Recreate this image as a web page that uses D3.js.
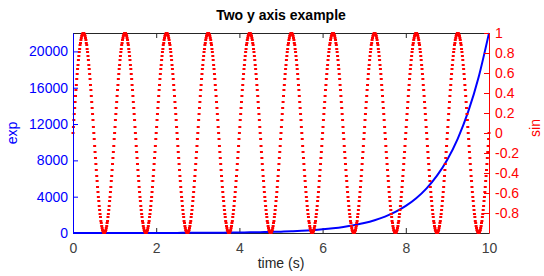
<!DOCTYPE html>
<html>
<head>
<meta charset="utf-8">
<script src="https://cdn.jsdelivr.net/npm/d3@7"></script>
<style>
    body { margin: 0; background: #fff; }
    svg { display: block; font-family: "Liberation Sans", Arial, sans-serif; }
</style>
</head>
<body>
<div id="chart"></div>
<script>
// ticks
var timeTicks = [0, 2, 4, 6, 8, 10];
var expTicks = [0, 4000, 8000, 12000, 16000, 20000];
var sinTicks = [1, 0.8, 0.6, 0.4, 0.2, 0, -0.2, -0.4, -0.6, -0.8];

// sin series, one sample every 0.01 s
var sinStep = 0.01;
var sinValues = [
0,.06,.13,.19,.25,.31,.37,.43,.48,.54,.59,.64,.68,.73,.77,.81,.84,.88,.9,.93,.95,.97,.98,.99,1,1,1,.99,.98,.97,.95,.93,.9,.88,.84,.81,.77,.73,.68,.64,.59,.54,.48,.43,.37,.31,.25,.19,.13,.06,0,-.06,-.13,-.19,-.25,-.31,-.37,-.43,-.48,-.54,-.59,-.64,-.68,-.73,-.77,-.81,-.84,-.88,-.9,-.93,-.95,-.97,-.98,-.99,-1,-1,-1,-.99,-.98,-.97,-.95,-.93,-.9,-.88,-.84,-.81,-.77,-.73,-.68,-.64,-.59,-.54,-.48,-.43,-.37,-.31,-.25,-.19,-.13,-.06,
0,.06,.13,.19,.25,.31,.37,.43,.48,.54,.59,.64,.68,.73,.77,.81,.84,.88,.9,.93,.95,.97,.98,.99,1,1,1,.99,.98,.97,.95,.93,.9,.88,.84,.81,.77,.73,.68,.64,.59,.54,.48,.43,.37,.31,.25,.19,.13,.06,0,-.06,-.13,-.19,-.25,-.31,-.37,-.43,-.48,-.54,-.59,-.64,-.68,-.73,-.77,-.81,-.84,-.88,-.9,-.93,-.95,-.97,-.98,-.99,-1,-1,-1,-.99,-.98,-.97,-.95,-.93,-.9,-.88,-.84,-.81,-.77,-.73,-.68,-.64,-.59,-.54,-.48,-.43,-.37,-.31,-.25,-.19,-.13,-.06,
0,.06,.13,.19,.25,.31,.37,.43,.48,.54,.59,.64,.68,.73,.77,.81,.84,.88,.9,.93,.95,.97,.98,.99,1,1,1,.99,.98,.97,.95,.93,.9,.88,.84,.81,.77,.73,.68,.64,.59,.54,.48,.43,.37,.31,.25,.19,.13,.06,0,-.06,-.13,-.19,-.25,-.31,-.37,-.43,-.48,-.54,-.59,-.64,-.68,-.73,-.77,-.81,-.84,-.88,-.9,-.93,-.95,-.97,-.98,-.99,-1,-1,-1,-.99,-.98,-.97,-.95,-.93,-.9,-.88,-.84,-.81,-.77,-.73,-.68,-.64,-.59,-.54,-.48,-.43,-.37,-.31,-.25,-.19,-.13,-.06,
0,.06,.13,.19,.25,.31,.37,.43,.48,.54,.59,.64,.68,.73,.77,.81,.84,.88,.9,.93,.95,.97,.98,.99,1,1,1,.99,.98,.97,.95,.93,.9,.88,.84,.81,.77,.73,.68,.64,.59,.54,.48,.43,.37,.31,.25,.19,.13,.06,0,-.06,-.13,-.19,-.25,-.31,-.37,-.43,-.48,-.54,-.59,-.64,-.68,-.73,-.77,-.81,-.84,-.88,-.9,-.93,-.95,-.97,-.98,-.99,-1,-1,-1,-.99,-.98,-.97,-.95,-.93,-.9,-.88,-.84,-.81,-.77,-.73,-.68,-.64,-.59,-.54,-.48,-.43,-.37,-.31,-.25,-.19,-.13,-.06,
0,.06,.13,.19,.25,.31,.37,.43,.48,.54,.59,.64,.68,.73,.77,.81,.84,.88,.9,.93,.95,.97,.98,.99,1,1,1,.99,.98,.97,.95,.93,.9,.88,.84,.81,.77,.73,.68,.64,.59,.54,.48,.43,.37,.31,.25,.19,.13,.06,0,-.06,-.13,-.19,-.25,-.31,-.37,-.43,-.48,-.54,-.59,-.64,-.68,-.73,-.77,-.81,-.84,-.88,-.9,-.93,-.95,-.97,-.98,-.99,-1,-1,-1,-.99,-.98,-.97,-.95,-.93,-.9,-.88,-.84,-.81,-.77,-.73,-.68,-.64,-.59,-.54,-.48,-.43,-.37,-.31,-.25,-.19,-.13,-.06,
0,.06,.13,.19,.25,.31,.37,.43,.48,.54,.59,.64,.68,.73,.77,.81,.84,.88,.9,.93,.95,.97,.98,.99,1,1,1,.99,.98,.97,.95,.93,.9,.88,.84,.81,.77,.73,.68,.64,.59,.54,.48,.43,.37,.31,.25,.19,.13,.06,0,-.06,-.13,-.19,-.25,-.31,-.37,-.43,-.48,-.54,-.59,-.64,-.68,-.73,-.77,-.81,-.84,-.88,-.9,-.93,-.95,-.97,-.98,-.99,-1,-1,-1,-.99,-.98,-.97,-.95,-.93,-.9,-.88,-.84,-.81,-.77,-.73,-.68,-.64,-.59,-.54,-.48,-.43,-.37,-.31,-.25,-.19,-.13,-.06,
0,.06,.13,.19,.25,.31,.37,.43,.48,.54,.59,.64,.68,.73,.77,.81,.84,.88,.9,.93,.95,.97,.98,.99,1,1,1,.99,.98,.97,.95,.93,.9,.88,.84,.81,.77,.73,.68,.64,.59,.54,.48,.43,.37,.31,.25,.19,.13,.06,0,-.06,-.13,-.19,-.25,-.31,-.37,-.43,-.48,-.54,-.59,-.64,-.68,-.73,-.77,-.81,-.84,-.88,-.9,-.93,-.95,-.97,-.98,-.99,-1,-1,-1,-.99,-.98,-.97,-.95,-.93,-.9,-.88,-.84,-.81,-.77,-.73,-.68,-.64,-.59,-.54,-.48,-.43,-.37,-.31,-.25,-.19,-.13,-.06,
0,.06,.13,.19,.25,.31,.37,.43,.48,.54,.59,.64,.68,.73,.77,.81,.84,.88,.9,.93,.95,.97,.98,.99,1,1,1,.99,.98,.97,.95,.93,.9,.88,.84,.81,.77,.73,.68,.64,.59,.54,.48,.43,.37,.31,.25,.19,.13,.06,0,-.06,-.13,-.19,-.25,-.31,-.37,-.43,-.48,-.54,-.59,-.64,-.68,-.73,-.77,-.81,-.84,-.88,-.9,-.93,-.95,-.97,-.98,-.99,-1,-1,-1,-.99,-.98,-.97,-.95,-.93,-.9,-.88,-.84,-.81,-.77,-.73,-.68,-.64,-.59,-.54,-.48,-.43,-.37,-.31,-.25,-.19,-.13,-.06,
0,.06,.13,.19,.25,.31,.37,.43,.48,.54,.59,.64,.68,.73,.77,.81,.84,.88,.9,.93,.95,.97,.98,.99,1,1,1,.99,.98,.97,.95,.93,.9,.88,.84,.81,.77,.73,.68,.64,.59,.54,.48,.43,.37,.31,.25,.19,.13,.06,0,-.06,-.13,-.19,-.25,-.31,-.37,-.43,-.48,-.54,-.59,-.64,-.68,-.73,-.77,-.81,-.84,-.88,-.9,-.93,-.95,-.97,-.98,-.99,-1,-1,-1,-.99,-.98,-.97,-.95,-.93,-.9,-.88,-.84,-.81,-.77,-.73,-.68,-.64,-.59,-.54,-.48,-.43,-.37,-.31,-.25,-.19,-.13,-.06,
0,.06,.13,.19,.25,.31,.37,.43,.48,.54,.59,.64,.68,.73,.77,.81,.84,.88,.9,.93,.95,.97,.98,.99,1,1,1,.99,.98,.97,.95,.93,.9,.88,.84,.81,.77,.73,.68,.64,.59,.54,.48,.43,.37,.31,.25,.19,.13,.06,0,-.06,-.13,-.19,-.25,-.31,-.37,-.43,-.48,-.54,-.59,-.64,-.68,-.73,-.77,-.81,-.84,-.88,-.9,-.93,-.95,-.97,-.98,-.99,-1,-1,-1,-.99,-.98,-.97,-.95,-.93,-.9,-.88,-.84,-.81,-.77,-.73,-.68,-.64,-.59,-.54,-.48,-.43,-.37,-.31,-.25,-.19,-.13,-.06,
0
];

// exp series, one sample every 0.25 s
var expStep = 0.25;
var expValues = [
    1, 1.284, 1.649, 2.117, 2.718, 3.49, 4.482, 5.755, 7.389, 9.488,
    12.18, 15.64, 20.09, 25.79, 33.12, 42.52, 54.6, 70.11, 90.02, 115.6,
    148.4, 190.6, 244.7, 314.2, 403.4, 518, 665.1, 854.1, 1096.6, 1408.1,
    1808, 2321.6, 2981, 3827.6, 4914.8, 6310.7, 8103.1, 10404.6, 13359.7, 17154.2,
    22026.5
];

var m = {top: 33, right: 55, bottom: 43, left: 73}
    , w = 544 - m.left - m.right
    , h = 276 - m.top - m.bottom;

var root = d3.select("#chart").append("svg")
    .attr("width", 544)
    .attr("height", 276);

//Title
root.append("text")
    .attr("x", 281)
    .attr("y", 20)
    .attr("text-anchor", "middle")
    .style("font-size", "14px")
    .style("font-weight", "bold")
    .text("Two y axis example");

var svg = root.append("g")
    .attr("transform", "translate(" + m.left + "," + m.top + ")");

var x = d3.scaleLinear().domain([0, 10]).range([0, w]);
var yExp = d3.scaleLinear().domain([0, 22026.5]).range([h, 0]);
var ySin = d3.scaleLinear().domain([-1, 1]).range([h, 0]);

function styleAxis(g, color, textColor) {
    g.select(".domain").attr("stroke", color).attr("stroke-width", 1);
    g.selectAll(".tick line").attr("stroke", color);
    g.selectAll(".tick text").attr("fill", textColor).style("font-size", "14px");
    g.attr("font-family", null);
}

// top border with ticks
svg.append("g")
    .call(d3.axisTop(x).tickValues(timeTicks).tickSizeInner(-5).tickSizeOuter(0).tickFormat(""))
    .call(styleAxis, "#262626", "#262626");

// bottom axis
svg.append("g")
    .attr("transform", "translate(0," + h + ")")
    .call(d3.axisBottom(x).tickValues(timeTicks).tickSizeInner(-5).tickSizeOuter(0).tickPadding(10))
    .call(styleAxis, "#262626", "#404040");

// exp line
var line = d3.line()
    .x(function(d, i) { return x(i * expStep); })
    .y(function(d) { return yExp(d); })
    .curve(d3.curveMonotoneX);

svg.append("path")
    .datum(expValues)
    .attr("fill", "none")
    .attr("stroke", "#0000ff")
    .attr("stroke-width", 2)
    .attr("d", line);

// sin dots
svg.append("g").selectAll("rect")
    .data(sinValues)
    .enter().append("rect")
    .attr("x", function(d, i) { return x(i * sinStep) - 1.5; })
    .attr("y", function(d) { return ySin(d) - 1; })
    .attr("width", 3)
    .attr("height", 2)
    .attr("fill", "#ff0000");

// left axis
svg.append("g")
    .call(d3.axisLeft(yExp).tickValues(expTicks).tickSizeInner(-5).tickSizeOuter(0).tickPadding(5)
        .tickFormat(d3.format("d")))
    .call(styleAxis, "#0000ff", "#0000ff");

// right axis
svg.append("g")
    .attr("transform", "translate(" + w + ",0)")
    .call(d3.axisRight(ySin).tickValues(sinTicks).tickSizeInner(-5).tickSizeOuter(0).tickPadding(6)
        .tickFormat(function(d) { return String(d); }))
    .call(styleAxis, "#ff0000", "#ff0000");

// axis labels
root.append("text")
    .attr("transform", "translate(17,133) rotate(-90)")
    .attr("text-anchor", "middle")
    .attr("fill", "#0000ff")
    .style("font-size", "14px")
    .text("exp");

root.append("text")
    .attr("transform", "translate(540,128) rotate(-90)")
    .attr("text-anchor", "middle")
    .attr("fill", "#ff0000")
    .style("font-size", "14px")
    .text("sin");

root.append("text")
    .attr("x", 281)
    .attr("y", 268)
    .attr("text-anchor", "middle")
    .attr("fill", "#262626")
    .style("font-size", "14px")
    .text("time (s)");
</script>
</body>
</html>
